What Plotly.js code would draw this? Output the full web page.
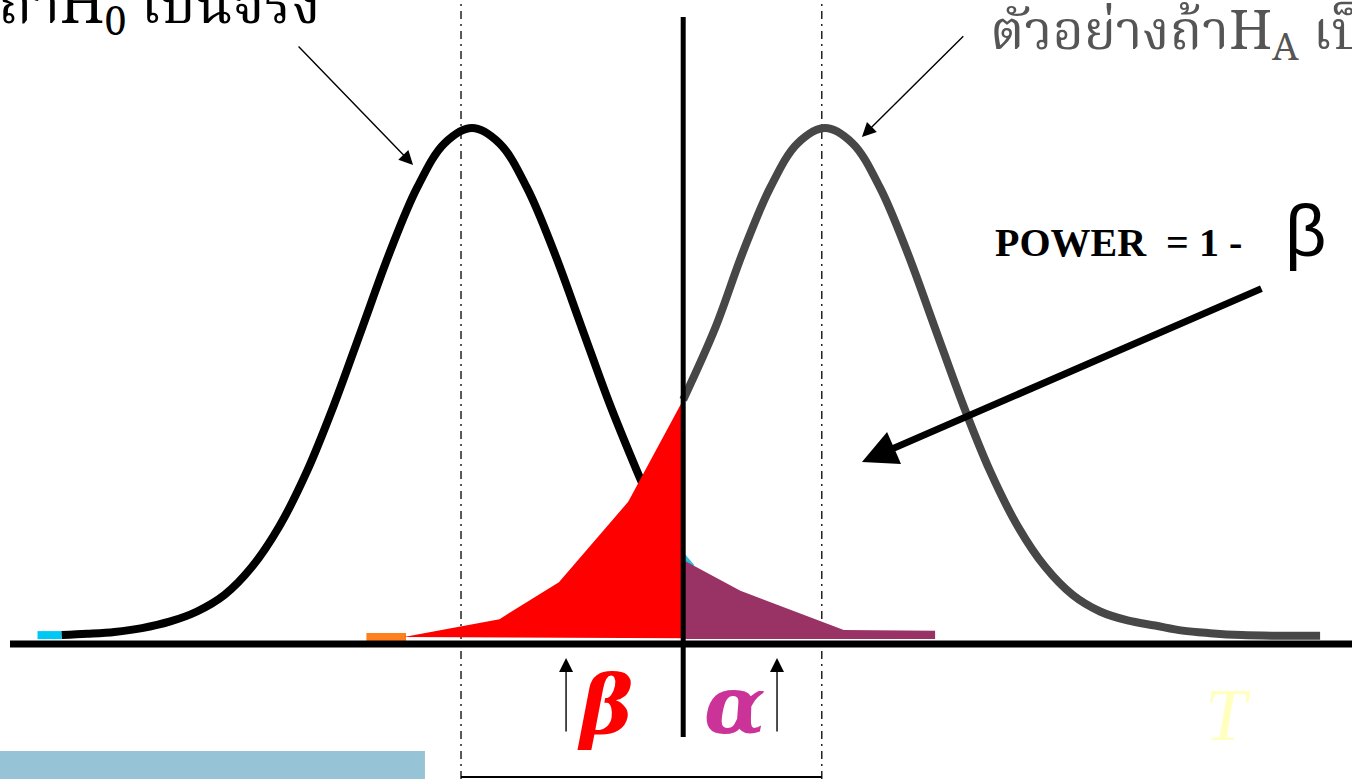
<!DOCTYPE html>
<html>
<head>
<meta charset="utf-8">
<script src="https://cdn.plot.ly/plotly-3.0.1.min.js"></script>
<style>html,body{margin:0;padding:0;background:#fff;}#chart{width:1352px;height:779px;}</style>
</head>
<body>
<div id="chart"></div>
<script>
// ---- data (t-statistic units, density) ----
const h0TailX = [-3.95, -3.73];
const h0TailY = [0.0015, 0.0015];
const h0X = [-3.73, -3.5, -3.25, -3.0, -2.75, -2.5, -2.25, -2.0, -1.75, -1.5, -1.25, -1.0, -0.75, -0.5, -0.25, 0, 0.25, 0.5, 0.75, 1.0, 1.25, 1.5, 1.55];
const h0Y = [0.0015, 0.0025, 0.004, 0.007, 0.012, 0.02, 0.033, 0.055, 0.087, 0.13, 0.183, 0.242, 0.301, 0.352, 0.387, 0.399, 0.387, 0.352, 0.301, 0.242, 0.183, 0.13, 0.12];
const haX = [1.92, 2.21, 2.46, 2.71, 2.96, 3.21, 3.46, 3.71, 3.96, 4.21, 4.46, 4.71, 4.96, 5.21, 5.46, 5.71, 5.96, 6.21, 6.46, 6.71, 7.0, 7.3, 7.71];
const haY = [0.186, 0.242, 0.301, 0.352, 0.387, 0.399, 0.387, 0.352, 0.301, 0.242, 0.183, 0.13, 0.087, 0.055, 0.033, 0.02, 0.013, 0.009, 0.005, 0.003, 0.0015, 0.001, 0.001];
const betaX = [1.92, 1.42, 0.79, 0.25, -0.62, 1.92];
const betaY = [0.186, 0.106, 0.043, 0.014, 0.0, -0.001];
const betaTailX = [-0.96, -0.6];
const betaTailY = [0.0, 0.0];
const alphaX = [1.92, 2.44, 3.38, 4.21, 4.21, 1.92];
const alphaY = [0.0604, 0.0363, 0.0055, 0.0049, -0.0016, -0.0016];
const h0RightX = [1.92, 2.0];
const h0RightY = [0.063, 0.055];
const criticalValue = 1.92;
const meanLines = [-0.1, 3.18];
const labelH0 = 'ตัวอย่างถ้าH<sub>0</sub> เป็นจริง';
const labelHA = 'ตัวอย่างถ้าH<sub>A</sub> เป็นจริง';
const labelPowerText = 'POWER  = 1 - ';
const labelPowerBeta = 'β';
const labelBeta = 'β';
const labelAlpha = 'α';
const labelT = 'T';

// ---- drawing ----
const thaiFont = 'Norasi, "Noto Serif Thai", "Liberation Serif", serif';
const traces = [
  {x: h0TailX, y: h0TailY, mode: 'lines', line: {color: '#00c8f5', width: 8}},
  {x: h0X, y: h0Y, mode: 'lines', line: {color: '#000000', width: 8, shape: 'spline'}},
  {x: haX, y: haY, mode: 'lines', line: {color: '#474747', width: 8, shape: 'spline'}},
  {x: betaTailX, y: betaTailY, mode: 'lines', line: {color: '#ff7f1e', width: 8}},
  {x: betaX, y: betaY, mode: 'lines', fill: 'toself', fillcolor: '#ff0000', line: {width: 0, color: '#ff0000'}},
  {x: h0RightX, y: h0RightY, mode: 'lines', line: {color: '#33bbdd', width: 6}},
  {x: alphaX, y: alphaY, mode: 'lines', fill: 'toself', fillcolor: '#993366', line: {width: 0, color: '#993366'}}
];

const shapes = [
  {type: 'line', xref: 'x', yref: 'paper', x0: meanLines[0], x1: meanLines[0], y0: 0, y1: 1, line: {color: '#000', width: 1.3, dash: '8px,5px,2px,5px'}, layer: 'below'},
  {type: 'line', xref: 'x', yref: 'paper', x0: meanLines[1], x1: meanLines[1], y0: 0, y1: 1, line: {color: '#000', width: 1.3, dash: '8px,5px,2px,5px'}, layer: 'below'},
  {type: 'line', xref: 'x', yref: 'y', x0: -4.2, x1: 8.1, y0: -0.0055, y1: -0.0055, line: {color: '#000', width: 7}},
  {type: 'line', xref: 'x', yref: 'y', x0: criticalValue, x1: criticalValue, y0: 0.486, y1: -0.0784, line: {color: '#000', width: 5}},
  {type: 'line', xref: 'x', yref: 'y', x0: meanLines[0], x1: meanLines[1], y0: -0.1097, y1: -0.1097, line: {color: '#000', width: 2}},
  {type: 'rect', xref: 'paper', yref: 'paper', x0: 0, x1: 0.3143, y0: 0, y1: 0.0359, fillcolor: '#96c3d5', line: {width: 0}}
];

const annotations = [
  {x: -1.364, y: 0.492, xref: 'x', yref: 'y', text: labelH0, showarrow: false, xanchor: 'right', yanchor: 'middle',
   font: {family: thaiFont, size: 56, color: '#000'}},
  {x: 4.69, y: 0.471, xref: 'x', yref: 'y', text: labelHA, showarrow: false, xanchor: 'left', yanchor: 'middle',
   font: {family: thaiFont, size: 54, color: '#555555'}},
  {x: 4.736, y: 0.309, xref: 'x', yref: 'y', text: '<b>' + labelPowerText + '</b>', showarrow: false, xanchor: 'left', yanchor: 'middle',
   font: {family: 'Liberation Serif, serif', size: 40, color: '#000'}},
  {x: 7.573, y: 0.318, xref: 'x', yref: 'y', text: labelPowerBeta, showarrow: false, xanchor: 'center', yanchor: 'middle',
   font: {family: 'Liberation Sans, sans-serif', size: 72, color: '#000'}},
  {x: 1.21, y: -0.053, xref: 'x', yref: 'y', text: '<b><i>' + labelBeta + '</i></b>', showarrow: false,
   font: {family: 'DejaVu Serif, serif', size: 80, color: '#ff0000'}},
  {x: 2.39, y: -0.053, xref: 'x', yref: 'y', text: '<b><i>' + labelAlpha + '</i></b>', showarrow: false,
   font: {family: 'DejaVu Serif, serif', size: 80, color: '#cc3399'}},
  {x: 6.873, y: -0.061, xref: 'x', yref: 'y', text: '<i>' + labelT + '</i>', showarrow: false,
   font: {family: 'Liberation Serif, serif', size: 74, color: '#ffffc0'}},
  {x: -0.536, y: 0.37, ax: -1.59, ay: 0.464, xref: 'x', yref: 'y', axref: 'x', ayref: 'y', text: '', showarrow: true,
   arrowhead: 2, arrowsize: 2, arrowwidth: 1.4, arrowcolor: '#000'},
  {x: 3.545, y: 0.392, ax: 4.48, ay: 0.472, xref: 'x', yref: 'y', axref: 'x', ayref: 'y', text: '', showarrow: true,
   arrowhead: 2, arrowsize: 2, arrowwidth: 1.4, arrowcolor: '#000'},
  {x: 3.545, y: 0.1372, ax: 7.19, ay: 0.2736, xref: 'x', yref: 'y', axref: 'x', ayref: 'y', text: '', showarrow: true,
   arrowhead: 2, arrowsize: 1, arrowwidth: 7, arrowcolor: '#000'},
  {x: 0.855, y: -0.0165, ax: 0.855, ay: -0.0753, xref: 'x', yref: 'y', axref: 'x', ayref: 'y', text: '', showarrow: true,
   arrowhead: 2, arrowsize: 2, arrowwidth: 1.4, arrowcolor: '#000'},
  {x: 2.773, y: -0.0165, ax: 2.773, ay: -0.0753, xref: 'x', yref: 'y', axref: 'x', ayref: 'y', text: '', showarrow: true,
   arrowhead: 2, arrowsize: 2, arrowwidth: 1.4, arrowcolor: '#000'}
];

const layout = {
  width: 1352, height: 779,
  margin: {l: 0, r: 0, t: 0, b: 0, pad: 0},
  paper_bgcolor: '#ffffff', plot_bgcolor: '#ffffff',
  showlegend: false,
  xaxis: {range: [-4.291, 8.0], visible: false, fixedrange: true},
  yaxis: {range: [-0.1113, 0.4993], visible: false, fixedrange: true},
  shapes: shapes,
  annotations: annotations
};

Plotly.newPlot('chart', traces, layout, {displayModeBar: false, staticPlot: true});
</script>
</body>
</html>
